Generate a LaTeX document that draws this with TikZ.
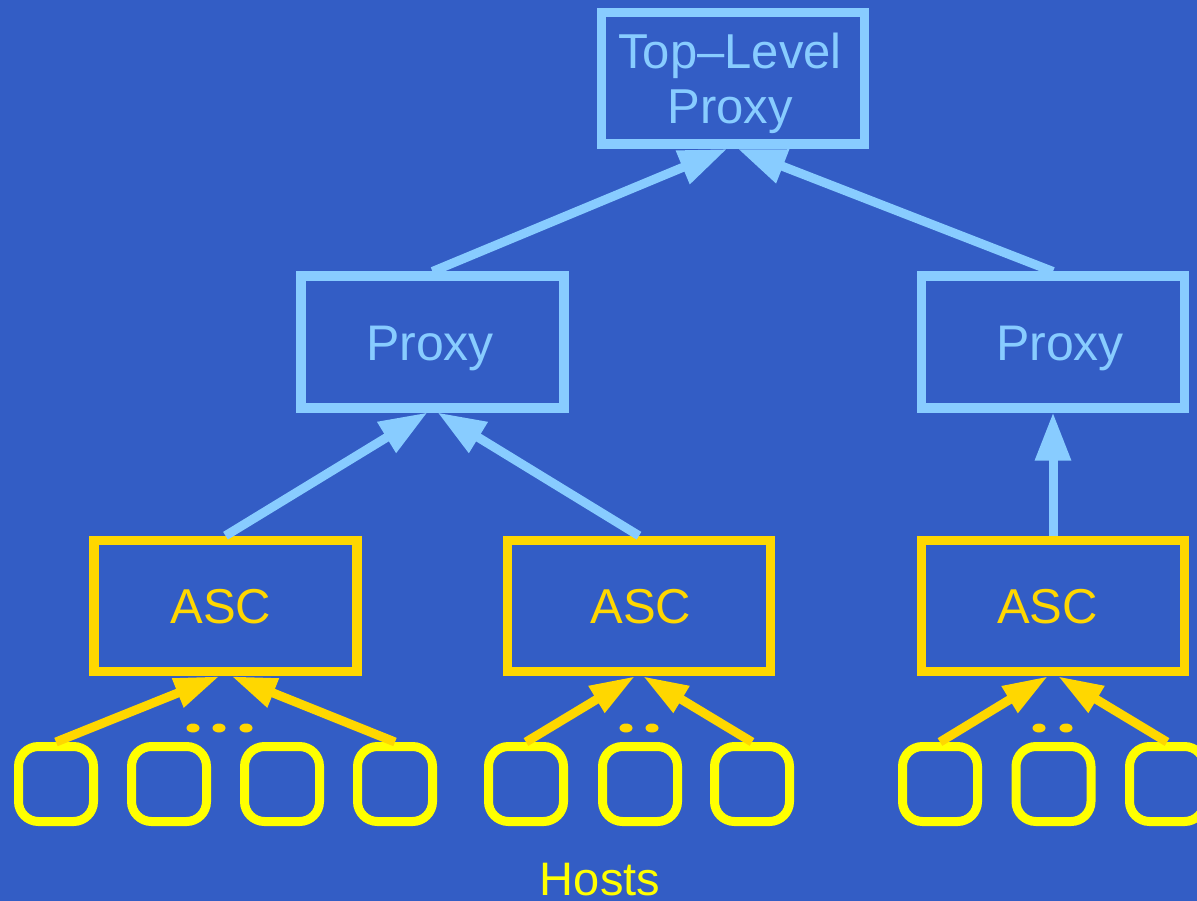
\documentclass[tikz,border=0pt]{standalone}
\usepackage{fontspec}
\setmainfont{Liberation Sans}
\usetikzlibrary{arrows.meta}

\definecolor{bg}{RGB}{51,93,197}
\definecolor{sky}{RGB}{136,204,255}
\definecolor{gold}{RGB}{255,215,0}
\definecolor{hostyellow}{RGB}{255,255,0}

\begin{document}
\begin{tikzpicture}[x=1pt,y=-1pt,
  proxybox/.style={draw=sky, line width=9.5pt, minimum width=263pt,
    minimum height=131.5pt, inner sep=0pt},
  proxytext/.style={text=sky, inner sep=0pt, font=\fontsize{50}{55}\selectfont,
    text height=36pt, text depth=0pt},
  ascbox/.style={draw=gold, line width=9.5pt, minimum width=263pt,
    minimum height=131pt, inner sep=0pt},
  asctext/.style={text=gold, inner sep=0pt, font=\fontsize{49}{55}\selectfont,
    text height=35pt, text depth=0pt},
  hostbox/.style={draw=hostyellow, line width=9pt, rounded corners=20pt,
    minimum width=75pt, minimum height=75pt, inner sep=0pt},
  uplink/.style={draw=sky, line width=9pt, -{Triangle[length=48pt,width=34pt]}},
  hostlink/.style={draw=gold, line width=9pt, -{Triangle[length=45pt,width=29pt]}},
  dot/.style={fill=gold},
]
% backdrop
\fill[bg] (0,0) rectangle (1197,901);
\useasboundingbox (0,0) rectangle (1197,901);

% proxies
\node[proxybox, label={[name=topL, text=sky, inner sep=0pt, align=center,
    font=\fontsize{49}{55}\selectfont, xshift=-3pt, yshift=-4.5pt]center:Top–Level\\Proxy}]
  (top) at (733,78.5) {};
\node[proxybox, label={[name=proxyLL, proxytext, xshift=-2.5pt]center:Proxy}]
  (proxyL) at (432.5,342) {};
\node[proxybox, label={[name=proxyRL, proxytext, xshift=7pt]center:Proxy}]
  (proxyR) at (1053,342) {};

% ASC boxes
\node[ascbox, label={[name=ascAL, asctext, xshift=-4.5pt]center:ASC}] (ascA) at (225.5,606) {};
\node[ascbox, label={[name=ascBL, asctext, xshift=2pt]center:ASC}] (ascB) at (639,606) {};
\node[ascbox, label={[name=ascCL, asctext, xshift=-5.5pt]center:ASC}] (ascC) at (1053,606) {};

% hosts
\foreach \x/\n in {56/a1,169/a2,282/a3,395/a4,526/b1,640/b2,752/b3,940/c1,1053.5/c2,1167/c3}
  \node[hostbox] (h\n) at (\x,784) {};

% ellipsis marks between hosts
\foreach \x in {193,219,246,626,652,1039,1066}
  \fill[dot] (\x,728) ellipse [x radius=6.5pt, y radius=4.5pt];

\node[text=hostyellow, font=\fontsize{47}{50}\selectfont, anchor=base] (hosts) at (600,895) {Hosts};

% proxy links
\draw[uplink] (proxyL.north) -- ([xshift=-6pt]top.south);
\draw[uplink] (proxyR.north) -- ([xshift=5pt]top.south);
\draw[uplink] (ascA.north) -- ([xshift=-5pt]proxyL.south);
\draw[uplink] (ascB.north) -- ([xshift=5pt]proxyL.south);
\draw[uplink] (ascC.north) -- (proxyR.south);

% host links
\draw[hostlink] (ha1.north) -- ([xshift=-6pt]ascA.south);
\draw[hostlink] (ha4.north) -- ([xshift=6pt]ascA.south);
\draw[hostlink] (hb1.north) -- ([xshift=-4pt]ascB.south);
\draw[hostlink] (hb3.north) -- ([xshift=4pt]ascB.south);
\draw[hostlink] (hc1.north) -- ([xshift=-5pt]ascC.south);
\draw[hostlink] (hc3.north) -- ([xshift=5pt]ascC.south);
\end{tikzpicture}
\end{document}
